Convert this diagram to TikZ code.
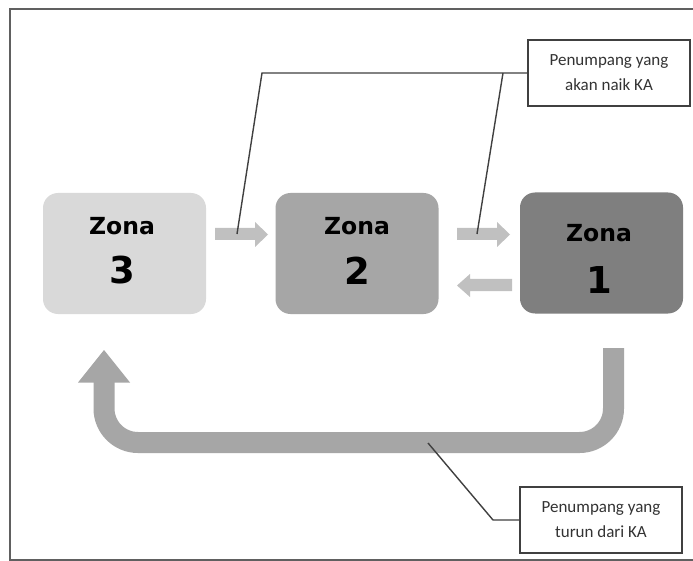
\documentclass[tikz,border=0pt]{standalone}
\usepackage{fontspec}
\setmainfont{Carlito}
\newfontfamily\zonafont{DejaVu Sans}
\definecolor{zthree}{HTML}{D9D9D9}
\definecolor{ztwo}{HTML}{A6A6A6}
\definecolor{zone}{HTML}{7F7F7F}
\definecolor{smallarrow}{HTML}{C0C0C0}
\definecolor{bigarrow}{HTML}{A6A6A6}
\definecolor{linegray}{HTML}{404040}
\definecolor{calltext}{HTML}{333333}
\definecolor{framegray}{HTML}{606060}
\begin{document}
\begin{tikzpicture}[x=1pt,y=-1pt,
  zonebox/.style={rounded corners=15pt, minimum width=163pt, minimum height=121pt, inner sep=0pt},
  zonaword/.style={font=\zonafont\bfseries\fontsize{23.5}{26}\selectfont, text=black, inner sep=0pt},
  zonanum/.style={font=\zonafont\bfseries\fontsize{37}{40}\selectfont, text=black, inner sep=0pt},
  callout/.style={draw=linegray, line width=1.4pt, fill=white, minimum width=162pt, minimum height=66pt,
    align=center, inner sep=0pt, text=calltext, font=\fontsize{17}{25}\selectfont},
  leader/.style={draw=linegray, line width=1.4pt},
  blockarrow/.style={fill=smallarrow},
]
\useasboundingbox (0,0) rectangle (693,561);
\fill[white] (0,0) rectangle (693,561);
\draw[framegray, line width=1.8pt] (10,9) rectangle (720,560);

% zones
\node[zonebox, fill=zthree] (z3) at (124.5,253.5) {};
\node[zonebox, fill=ztwo] (z2) at (357,253.5) {};
\node[zonebox, fill=zone] (z1) at (601.5,253) {};
\node[zonaword] (z3w) at (122,226) {Zona};
\node[zonanum] (z3n) at (122,270) {3};
\node[zonaword] (z2w) at (357,226) {Zona};
\node[zonanum] (z2n) at (357,271) {2};
\node[zonaword] (z1w) at (599,233) {Zona};
\node[zonanum] (z1n) at (599,280) {1};

% small block arrows
\fill[blockarrow] (215,228) -- (255,228) -- (255,222) -- (268,234.5) -- (255,247) -- (255,240) -- (215,240) -- cycle;
\fill[blockarrow] (457,228) -- (497,228) -- (497,222) -- (510,234.5) -- (497,247) -- (497,240) -- (457,240) -- cycle;
\fill[blockarrow] (512,279) -- (470,279) -- (470,274) -- (457,285.5) -- (470,297) -- (470,291) -- (512,291) -- cycle;

% U-shaped return arrow
\draw[bigarrow, line width=21pt, rounded corners=34pt] (613.5,348) -- (613.5,442.5) -- (104,442.5) -- (104,382);
\fill[bigarrow] (78,382.5) -- (104,350) -- (130,382.5) -- cycle;

% callouts
\node[callout] (c1) at (609,73) {Penumpang yang\\akan naik KA};
\node[callout] (c2) at (601,520) {Penumpang yang\\turun dari KA};

\coordinate (k1) at (262,73);
\coordinate (k2) at (503,73);
\coordinate (e1) at (237,234);
\coordinate (e2) at (477,234);
\coordinate (k3) at (493,520);
\coordinate (e3) at (428,443);
\draw[leader] (c1.west) -- (k1) -- (e1);
\draw[leader] (k2) -- (e2);
\draw[leader] (c2.west) -- (k3) -- (e3);
\end{tikzpicture}
\end{document}
